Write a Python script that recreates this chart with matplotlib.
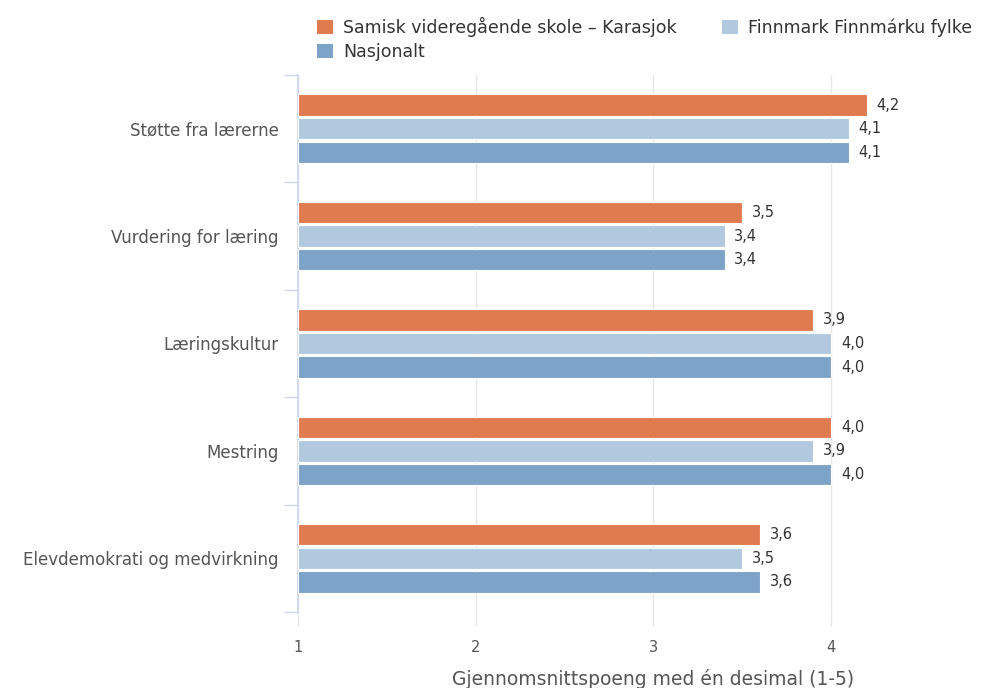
import numpy as np
import matplotlib
matplotlib.use("Agg")
import matplotlib.pyplot as plt
from matplotlib.patches import Patch

# ======================================
# DATA
# ======================================

kategorier = [
    "Støtte fra lærerne",
    "Vurdering for læring",
    "Læringskultur",
    "Mestring",
    "Elevdemokrati og medvirkning",
]

serier = [
    "Samisk videregående skole – Karasjok",
    "Finnmark Finnmárku fylke",
    "Nasjonalt",
]

skole = [4.2, 3.5, 3.9, 4.0, 3.6]
fylke = [4.1, 3.4, 4.0, 3.9, 3.5]
nasjonalt = [4.1, 3.4, 4.0, 4.0, 3.6]

x_ticks = [1, 2, 3, 4]

farger = ["#E07B4F", "#B1C8DF", "#7DA3C8"]

# ======================================
# FIGUR
# ======================================

plt.rcParams["font.family"] = ["DejaVu Sans"]

fig = plt.figure(figsize=(10.06, 6.88), dpi=100)
ax = fig.add_axes([0.2962, 0.1105, 0.7068, 0.7805])

y = np.arange(len(kategorier))
bar_h = 0.2
step = 0.22

for i, (verdier, farge) in enumerate(zip([skole, fylke, nasjonalt], farger)):
    pos = y + (i - 1) * step
    ax.barh(pos, np.array(verdier) - 1, left=1, height=bar_h,
            color=farge, edgecolor="white", linewidth=0.8, zorder=3)
    for p, v in zip(pos, verdier):
        ax.annotate(f"{v:.1f}".replace(".", ","), xy=(v, p),
                    xytext=(7, 0), textcoords="offset points",
                    va="center", ha="left", fontsize=10.5,
                    color="#333333")

ax.set_xlim(1, 5)
ax.set_ylim(len(kategorier) - 0.5, -0.5)

# kategorier midt i bandene, tick-streker på grensene
ax.set_yticks(y)
ax.set_yticklabels(kategorier, fontsize=12, color="#555555")
ax.tick_params(axis="y", length=0, pad=14)
ax.set_yticks(np.arange(len(kategorier) + 1) - 0.5, minor=True)
ax.tick_params(axis="y", which="minor", length=10, color="#CCD6EB", width=1)

ax.set_xticks(x_ticks)
ax.set_xticklabels([str(t) for t in x_ticks], fontsize=10.5, color="#555555")
ax.tick_params(axis="x", length=10, color="#E6E6E6", width=1, pad=10)
ax.xaxis.grid(True, color="#E6E6E6", linewidth=1, zorder=0)

for side in ["top", "right", "bottom"]:
    ax.spines[side].set_visible(False)
ax.spines["left"].set_color("#CCD6EB")
ax.spines["left"].set_linewidth(1.2)

ax.set_xlabel("Gjennomsnittspoeng med én desimal (1-5)",
              fontsize=13.5, color="#555555", labelpad=10)

# ======================================
# LEGEND
# ======================================

handles = [Patch(facecolor=f, edgecolor="none") for f in farger]
ordnet = [0, 2, 1]
fig.legend([handles[i] for i in ordnet], [serier[i] for i in ordnet],
           loc="upper left", bbox_to_anchor=(0.3, 0.998), ncol=2,
           frameon=False, fontsize=12.5, handlelength=0.9,
           handleheight=0.9, handletextpad=0.6, columnspacing=2.6,
           labelspacing=0.35, labelcolor="#333333")

fig.savefig("out.png", dpi=100)
